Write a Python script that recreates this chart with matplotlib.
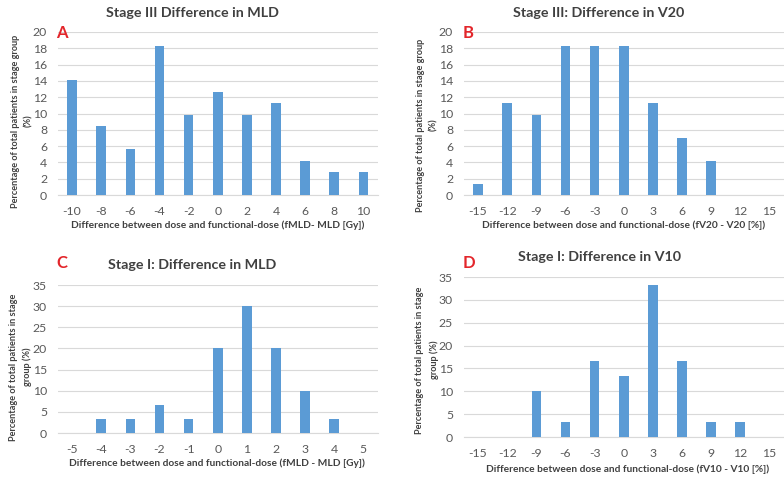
import numpy as np
import matplotlib.pyplot as plt

plt.rcParams['font.family'] = ['Lato', 'DejaVu Sans']

# panel A: Stage III, difference in MLD
a_x = [-10, -8, -6, -4, -2, 0, 2, 4, 6, 8, 10]
a_y = [14.08, 8.45, 5.63, 18.31, 9.86, 12.68, 9.86, 11.27, 4.23, 2.82, 2.82]

# panel B: Stage III, difference in V20
b_x = [-15, -12, -9, -6, -3, 0, 3, 6, 9, 12, 15]
b_y = [1.41, 11.27, 9.86, 18.31, 18.31, 18.31, 11.27, 7.04, 4.23, 0, 0]

# panel C: Stage I, difference in MLD
c_x = [-5, -4, -3, -2, -1, 0, 1, 2, 3, 4, 5]
c_y = [0, 3.33, 3.33, 6.67, 3.33, 20.0, 30.0, 20.0, 10.0, 3.33, 0]

# panel D: Stage I, difference in V10
d_x = [-15, -12, -9, -6, -3, 0, 3, 6, 9, 12, 15]
d_y = [0, 0, 10.0, 3.33, 16.67, 13.33, 33.33, 16.67, 3.33, 3.33, 0]

W, H = 784, 478
BLUE = '#5B9BD5'
GRID = '#D9D9D9'
TICK = '#595959'
RED = '#E3262B'


def px(x, y):
    return x / W, 1 - y / H


def panel(fig, box, xs, ys, ymax, ystep, title, tpos, letter, lpos,
          xlabel, xlpos, ylabel, ylpos):
    left, top, right, bottom = box
    ax = fig.add_axes([left / W, 1 - bottom / H, (right - left) / W, (bottom - top) / H])
    pos = np.arange(len(xs))
    ax.bar(pos, ys, width=0.33, color=BLUE, zorder=3)
    ax.set_xlim(-0.5, len(xs) - 0.5)
    ax.set_ylim(0, ymax)
    ax.set_yticks(np.arange(0, ymax + 0.1, ystep))
    ax.set_xticks(pos)
    ax.set_xticklabels([str(v) for v in xs])
    ax.yaxis.grid(True, color=GRID, linewidth=0.8, zorder=0)
    for s in ['top', 'right', 'left']:
        ax.spines[s].set_visible(False)
    ax.spines['bottom'].set_color(GRID)
    ax.spines['bottom'].set_linewidth(0.8)
    ax.tick_params(length=0, labelsize=8.8, colors=TICK)
    ax.tick_params(axis='x', pad=8)
    ax.tick_params(axis='y', pad=7.5)

    fig.text(*px(*tpos), title, ha='center', va='center', fontsize=10.3,
             fontweight='bold', color='#404040')
    fig.text(*px(*lpos), letter, ha='center', va='center', fontsize=12,
             fontweight='bold', color=RED)
    fig.text(*px(*xlpos), xlabel, ha='center', va='center', fontsize=7.3,
             fontweight='bold', color='#404040')
    fig.text(*px(*ylpos), ylabel, ha='center', va='center', fontsize=6.6,
             fontweight='bold', color='#404040', rotation=90,
             multialignment='center', linespacing=1.6)
    return ax


fig = plt.figure(figsize=(7.84, 4.78), dpi=100)

panel(fig, (57.5, 32, 378, 195), a_x, a_y, 20, 2,
      'Stage III Difference in MLD', (192, 13), 'A', (62, 33),
      'Difference between dose and functional-dose (fMLD- MLD [Gy])', (218, 225),
      'Percentage of total patients in stage group\n(%)', (22, 121))

panel(fig, (463.5, 32, 784, 195), b_x, b_y, 20, 2,
      'Stage III: Difference in V20', (599, 13), 'B', (468, 33),
      'Difference between dose and functional-dose (fV20 - V20 [%])', (624, 225),
      'Percentage of total patients in stage group\n(%)', (427, 125))

panel(fig, (57.5, 285, 378, 433), c_x, c_y, 35, 5,
      'Stage I: Difference in MLD', (192, 265), 'C', (62, 263),
      'Difference between dose and functional-dose (fMLD - MLD [Gy])', (217, 463),
      'Percentage of total patients in stage\ngroup (%)', (20.5, 367))

panel(fig, (463.5, 277, 784, 437), d_x, d_y, 35, 5,
      'Stage I: Difference in V10', (600, 257), 'D', (469, 263),
      'Difference between dose and functional-dose (fV10 - V10 [%])', (628, 469),
      'Percentage of total patients in stage\ngroup (%)', (427, 360))

fig.savefig('out.png', dpi=100)
